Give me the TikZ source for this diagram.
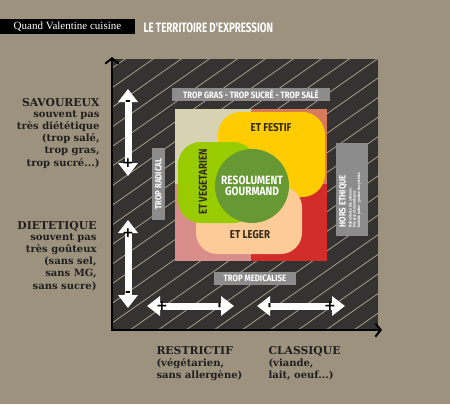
\documentclass[tikz,border=0pt]{standalone}
\usepackage{fontspec}
\usetikzlibrary{arrows.meta}
\newfontfamily\cuisinefont{Liberation Serif}
\newfontfamily\axefont{DejaVu Serif}
\newfontfamily\signefont{DejaVu Sans}
\newfontfamily\titrefont[FakeStretch=0.72]{Fira Sans}
\newfontfamily\etiqfont[FakeStretch=0.85]{Fira Sans}
\newcommand\troispts{...}

\definecolor{fondtan}{RGB}{157,146,126}
\definecolor{fondnoir}{RGB}{52,51,49}
\definecolor{hachure}{RGB}{168,158,138}
\definecolor{grisetiq}{RGB}{140,140,140}
\definecolor{beige}{RGB}{214,210,178}
\definecolor{saumon}{RGB}{217,122,91}
\definecolor{rose}{RGB}{217,142,140}
\definecolor{rouge}{RGB}{210,45,40}
\definecolor{jaune}{RGB}{255,204,0}
\definecolor{peche}{RGB}{252,203,152}
\definecolor{vertclair}{RGB}{153,204,0}
\definecolor{vertfonce}{RGB}{102,153,51}
\definecolor{brun}{RGB}{51,42,26}

\tikzset{every picture/.style={line width=0.75pt}}
\tikzset{
  etiq/.style={fill=grisetiq, text=white, inner sep=0pt, minimum height=9.75pt, font=\etiqfont\bfseries\fontsize{6.9}{7}\selectfont},
  bloc/.style={text=brun, inner sep=0pt, font=\etiqfont\bfseries\fontsize{8.6}{8}\selectfont},
  axetitre/.style={inner sep=0pt, text=black!88, font=\axefont\bfseries\fontsize{8.1}{9}\selectfont},
  axetexte/.style={inner sep=0pt, text=black!88, font=\axefont\bfseries\fontsize{7.5}{8}\selectfont},
  fleche/.style={draw=white, line width=5.25pt, {Triangle[width=14.25pt,length=9.75pt]}-{Triangle[width=14.25pt,length=9.75pt]}},
  signe/.style={inner sep=0pt, text=black, font=\signefont\bfseries\fontsize{10.5}{10}\selectfont},
}

\begin{document}
\begin{tikzpicture}[x=0.75pt,y=0.75pt,yscale=-1]
	\useasboundingbox (0,0) rectangle (450,404);
	\fill[fondtan] (0,0) rectangle (450,404);
	
	%Title bar
	\fill[black] (0,19) rectangle (135,34);
	% Text Node
	\node[inner sep=0pt, text=white, font=\cuisinefont\fontsize{8.25}{9}\selectfont] (valentine) at (67.5,26.5) {Quand Valentine cuisine};
	% Text Node
	\node[inner sep=0pt, anchor=west, text=white, font=\titrefont\bfseries\fontsize{10.2}{10}\selectfont] (territoire) at (143,27.5) {LE TERRITOIRE D'EXPRESSION};
	
	%Dark hatched square
	\fill[fondnoir] (112,59) rectangle (378,330);
	\begin{scope}
		\clip (112,59) rectangle (378,330);
		\foreach \hx in {-290,-262,...,390}
			\draw[hachure, line width=0.6pt] (\hx,330) -- ++(400,-280);
	\end{scope}
	
	%Axes
	\coordinate (hautaxe) at (112,57);
	\coordinate (origine) at (112,330);
	\coordinate (droiteaxe) at (382,330);
	\draw[line width=1.5pt, {Straight Barb[length=4pt,width=10pt]}-{Straight Barb[length=4pt,width=10pt]}] (hautaxe) -- (origine) -- (droiteaxe);
	
	%Grey labels
	\node[etiq, minimum width=118.5pt] (tropgras) at (251,94.5) {TROP GRAS - TROP SUCRÉ - TROP SALÉ};
	\node[etiq, minimum width=54pt, rotate=90] (tropradical) at (158.5,184) {TROP RADICAL};
	\node[etiq, minimum width=61.5pt] (tropmedical) at (255,278.5) {TROP MEDICALISE};
	\fill[grisetiq] (336,143) rectangle (368,236);
	\node[inner sep=0pt, anchor=west, rotate=90, text=white, font=\etiqfont\bfseries\fontsize{6.9}{7}\selectfont] (horsethique) at (343,228) {HORS ETHIQUE};
	\node[inner sep=0pt, anchor=west, rotate=90, text=white, font=\etiqfont\bfseries\fontsize{2.9}{3}\selectfont] (ethique1) at (350,228) {Maltraitance des animaux :};
	\node[inner sep=0pt, anchor=west, rotate=90, text=white, font=\etiqfont\bfseries\fontsize{2.9}{3}\selectfont] (ethique2) at (354.5,228) {foie gras et canards gras};
	\node[inner sep=0pt, anchor=west, rotate=90, text=white, font=\etiqfont\bfseries\fontsize{2.9}{3}\selectfont] (ethique3) at (359,228) {huile de palme - gomme de synthèse};
	
	%Inner square
	\fill[beige] (175,109) rectangle (251,184);
	\fill[saumon] (251,109) rectangle (327,184);
	\fill[rose] (175,184) rectangle (251,261);
	\fill[rouge] (251,184) rectangle (327,261);
	
	%Rounded shapes
	\fill[jaune, rounded corners=17pt] (218,112) rectangle (325,197);
	\fill[peche, rounded corners=16pt] (196,186) rectangle (302,254);
	\fill[vertclair, rounded corners=17pt] (178,142) rectangle (256,223);
	\fill[vertfonce] (252,186) circle (27.75pt);
	
	% Text Node
	\node[bloc] (festif) at (271,128) {ET FESTIF};
	% Text Node
	\node[bloc] (leger) at (250,235) {ET LEGER};
	% Text Node
	\node[bloc, rotate=90] (vegetarien) at (203,182) {ET VEGETARIEN};
	% Text Node
	\node[bloc, text=white, align=center, font=\etiqfont\bfseries\fontsize{9}{8}\selectfont] (gourmand) at (252,186) {RESOLUMENT\\GOURMAND};
	
	%White double arrows
	\coordinate (savhaut) at (128,89);
	\coordinate (savbas) at (128,176);
	\coordinate (diethaut) at (128,220);
	\coordinate (dietbas) at (128,308);
	\coordinate (restgauche) at (147,306);
	\coordinate (restdroite) at (234,306);
	\coordinate (classgauche) at (257,306);
	\coordinate (classdroite) at (345,306);
	\draw[fleche] (savhaut) -- (savbas);
	\draw[fleche] (diethaut) -- (dietbas);
	\draw[fleche] (restgauche) -- (restdroite);
	\draw[fleche] (classgauche) -- (classdroite);
	\node[signe] (moins1) at (128,103) {-};
	\node[signe] (plus1) at (128,163) {+};
	\node[signe] (plus2) at (128,233) {+};
	\node[signe] (moins2) at (128,294) {-};
	\node[signe] (plus3) at (162,306) {+};
	\node[signe, rotate=90] (moins3) at (221,306) {-};
	\node[signe, rotate=90] (moins4) at (271,306) {-};
	\node[signe] (plus4) at (330,306) {+};
	
	%Axis texts
	\node[axetitre, anchor=base east] (savoureux) at (100,106) {SAVOUREUX};
	\foreach \ligne [count=\i] in {souvent pas, très diététique, {(trop salé,}, {trop gras,}, trop sucré\troispts)}
		\node[axetexte, anchor=base east] (sav\i) at (100,117+12.3*\i-12.3) {\ligne};
	\node[axetitre, anchor=base east] (dietetique) at (97,229) {DIETETIQUE};
	\foreach \ligne [count=\i] in {souvent pas, très goûteux, {(sans sel,}, {sans MG,}, sans sucre)}
		\node[axetexte, anchor=base east] (diet\i) at (97,240+12.3*\i-12.3) {\ligne};
	\node[axetitre, anchor=base west] (restrictif) at (156,354) {RESTRICTIF};
	\foreach \ligne [count=\i] in {{(végétarien,}, sans allergène)}
		\node[axetexte, anchor=base west] (rest\i) at (156,354+12*\i) {\ligne};
	\node[axetitre, anchor=base west] (classique) at (268,354) {CLASSIQUE};
	\foreach \ligne [count=\i] in {{(viande,}, {lait, oeuf\troispts)}}
		\node[axetexte, anchor=base west] (class\i) at (268,354+12*\i) {\ligne};
	
\end{tikzpicture}
\end{document}
